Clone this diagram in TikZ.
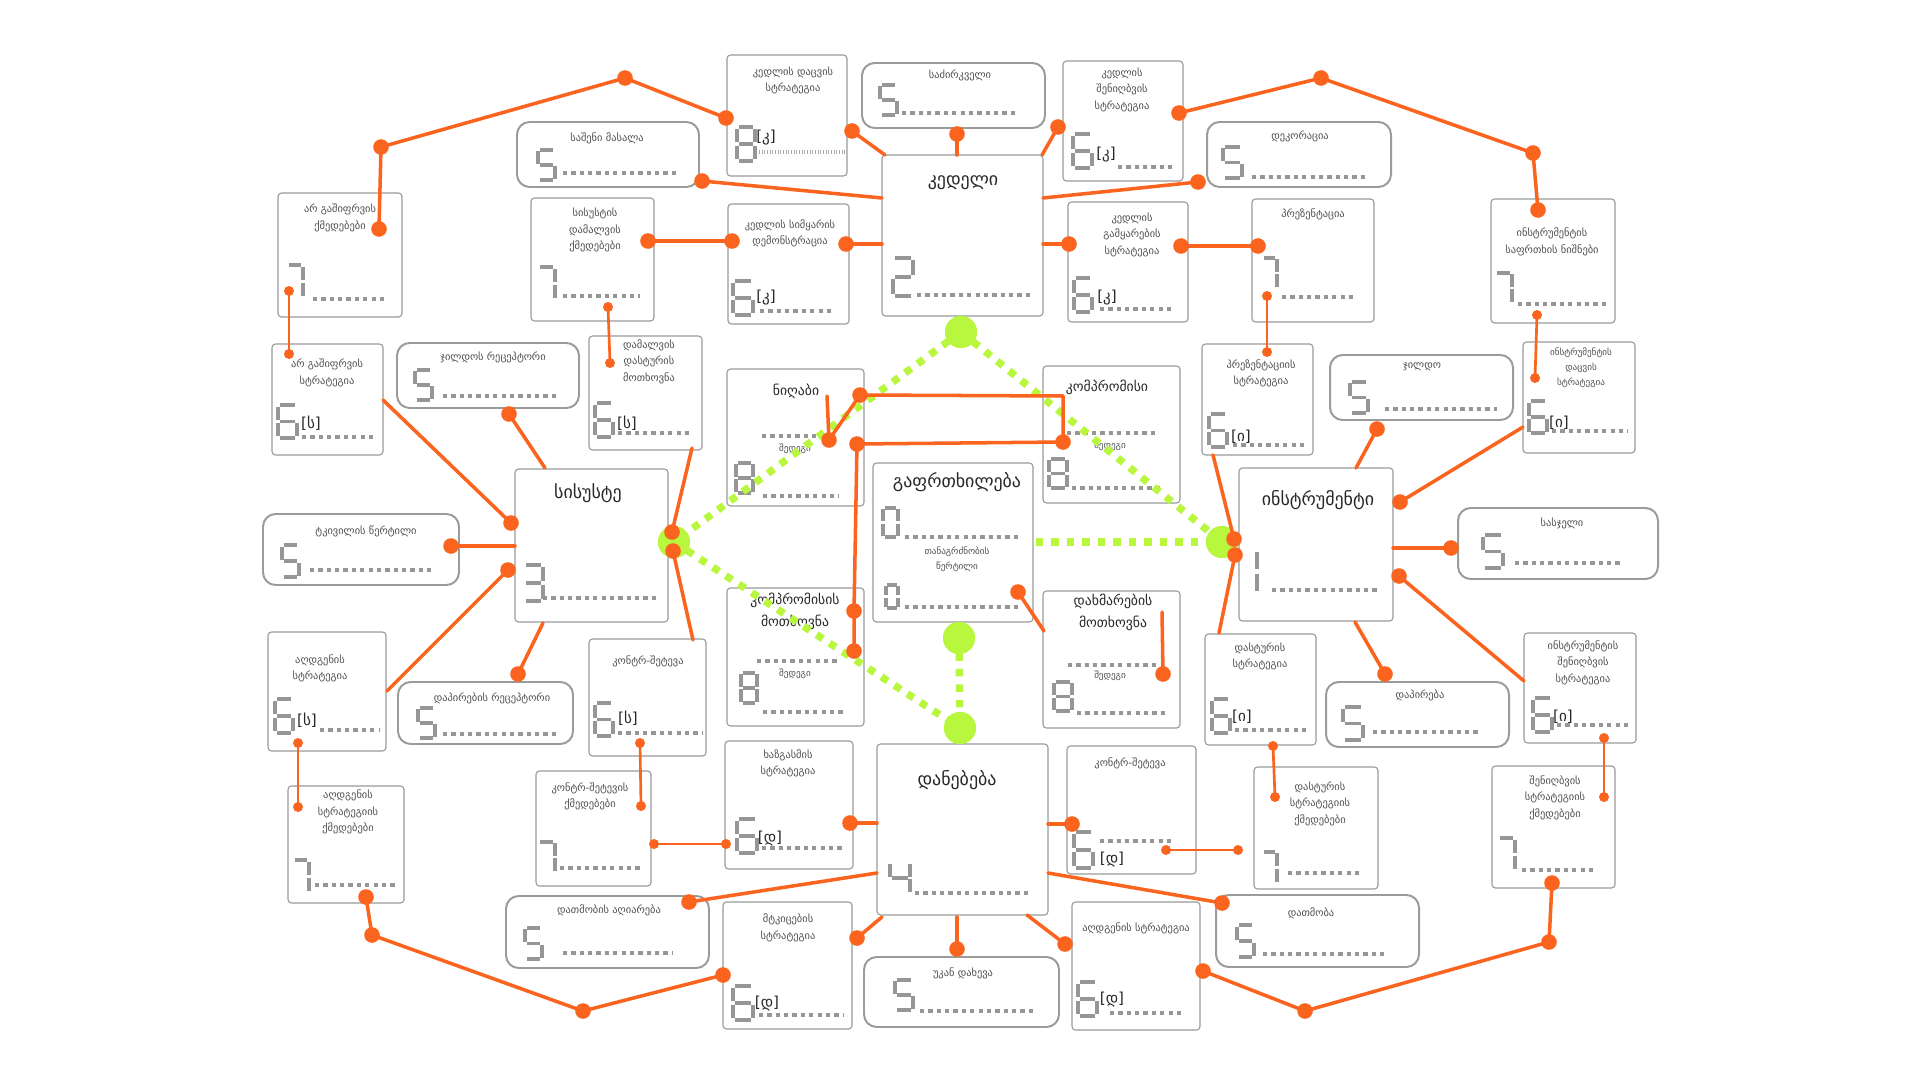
\documentclass[tikz,border=0pt]{standalone}
\usepackage{fontspec}
\setmainfont{DejaVu Sans}
\usetikzlibrary{fit}
\definecolor{org}{RGB}{250,100,30}
\definecolor{grn}{RGB}{184,247,61}
\definecolor{bord}{RGB}{155,155,155}
\definecolor{dig}{RGB}{150,150,150}
\definecolor{txt}{RGB}{80,80,80}
\definecolor{ttl}{RGB}{40,40,40}
\tikzset{
 sqb/.style={draw=bord, line width=1.6pt, rounded corners=5pt, fill=white, inner sep=0pt},
 rdb/.style={draw=bord, line width=2.8pt, rounded corners=18pt, fill=white, inner sep=0pt},
 segl/.style={draw=dig, line width=4.6pt},
 drw/.style={draw=dig, line width=5.7pt, dash pattern=on 6pt off 5.9pt},
 tickrow/.style={draw=dig!80, line width=5.7pt, dash pattern=on 1.2pt off 2.6pt},
 tsm/.style={text=txt, font=\fontsize{14.8}{23.5}\selectfont, align=center, inner sep=0pt},
 txs/.style={text=txt, font=\fontsize{13}{21.5}\selectfont, align=center, inner sep=0pt},
 tmid/.style={text=ttl, font=\fontsize{19.5}{31}\selectfont, align=center, inner sep=0pt},
 tbig/.style={text=ttl, font=\fontsize{25.5}{30}\selectfont, align=center, inner sep=0pt},
 brk/.style={text=ttl, font=\fontsize{21.5}{24}\selectfont, inner sep=0pt},
 ol/.style={draw=org, line width=5pt, line cap=round, line join=round},
 olt/.style={draw=org, line width=3.8pt, line cap=round},
 bd/.style={circle, fill=org, inner sep=0pt, minimum size=7.8mm},
 sd/.style={circle, fill=org, inner sep=0pt, minimum size=5mm},
 gd/.style={circle, fill=grn, inner sep=0pt, minimum size=16mm},
 gl/.style={draw=grn, line width=10.5pt, dash pattern=on 10.5pt off 11.5pt},
}
\newcommand\sqbox[5]{\node[sqb,fit={(#2,#3)(#4,#5)}] (#1) {};}
\newcommand\rbox[5]{\node[rdb,fit={(#2,#3)(#4,#5)}] (#1) {};}
\newcommand\drow[3]{\draw[drw] (#1,#3) -- (#2,#3);}
\newcommand\sgA{\draw[segl] (2,0)--(15,0);}
\newcommand\sgB{\draw[segl] (17,1.5)--(17,14.5);}
\newcommand\sgC{\draw[segl] (17,17.5)--(17,30.5);}
\newcommand\sgD{\draw[segl] (2,32)--(15,32);}
\newcommand\sgE{\draw[segl] (0,17.5)--(0,30.5);}
\newcommand\sgF{\draw[segl] (0,1.5)--(0,14.5);}
\newcommand\sgG{\draw[segl] (2,16)--(15,16);}
\newcommand\dZero{\sgA\sgB\sgC\sgD\sgE\sgF}
\newcommand\dOne{\sgE\sgF}
\newcommand\dTwo{\sgA\sgB\sgG\sgE\sgD}
\newcommand\dThree{\sgA\sgB\sgG\sgC\sgD}
\newcommand\dFour{\sgF\sgG\sgB\sgC}
\newcommand\dFive{\sgA\sgF\sgG\sgC\sgD}
\newcommand\dSix{\sgA\sgF\sgG\sgE\sgD\sgC}
\newcommand\dSeven{\sgA\sgB\sgC}
\newcommand\dEight{\sgA\sgB\sgC\sgD\sgE\sgF\sgG}
\newcommand\sdigit[5]{\begin{scope}[shift={(#1,#2)},xscale=#3/17,yscale=#4/32]#5\end{scope}}
\begin{document}
\begin{tikzpicture}[x=0.5mm,y=-0.5mm]
\fill[white] (0,0) rectangle (1920,1080);
\useasboundingbox (0,0) rectangle (1920,1080);

% ---------- square boxes ----------
\sqbox{ng1}{278}{193}{402}{317}
\node[tsm] (ng1t) at (340,218) {არ გაშიფრვის\\ქმედებები};
\sdigit{287}{265}{16}{32}{\dSeven} \drow{313}{388}{299}

\sqbox{sd1}{531}{198}{654}{321}
\node[tsm] (sd1t) at (595,230) {სისუსტის\\დამალვის\\ქმედებები};
\sdigit{538}{267}{17}{33}{\dSeven} \drow{563}{640}{296}

\sqbox{kd}{727}{55}{847}{176}
\node[tsm] (kdt) at (793,80.5) {კედლის დაცვის\\სტრატეგია};
\sdigit{737}{127}{18}{34}{\dEight} \node[brk] (kdb) at (766,138) {[კ]};
\draw[tickrow] (759,152) -- (845,152);

\sqbox{kedeli}{882}{155}{1043}{316}
\node[tbig] (kedelit) at (963,183) {კედელი};
\sdigit{893}{258}{20}{38}{\dTwo} \drow{917}{1033}{295}

\sqbox{ksh}{1063}{61}{1183}{181}
\node[tsm] (ksht) at (1122,89.5) {კედლის\\შენიღბვის\\სტრატეგია};
\sdigit{1073}{134}{19}{34}{\dSix} \node[brk] (kshb) at (1106,155) {[კ]};
\drow{1118}{1173}{167}

\sqbox{ksim}{728}{204}{849}{324}
\node[tsm] (ksimt) at (790,233.5) {კედლის სიმყარის\\დემონსტრაცია};
\sdigit{733}{281}{20}{34}{\dSix} \node[brk] (ksimb) at (766,298) {[კ]};
\drow{760}{835}{311}

\sqbox{kgam}{1068}{202}{1188}{322}
\node[tsm] (kgamt) at (1132,234.5) {კედლის\\გამყარების\\სტრატეგია};
\sdigit{1074}{278}{18}{34}{\dSix} \node[brk] (kgamb) at (1107,298) {[კ]};
\drow{1100}{1173}{309}

\sqbox{prez}{1252}{199}{1374}{322}
\node[tsm] (prezt) at (1313,214) {პრეზენტაცია};
\sdigit{1262}{258}{15}{30}{\dSeven} \drow{1282}{1355}{297}

\sqbox{insaf}{1491}{199}{1615}{323}
\node[tsm] (insaft) at (1552,242) {ინსტრუმენტის\\საფრთხის ნიშნები};
\sdigit{1495}{273}{17}{30}{\dSeven} \drow{1518}{1607}{304}

\sqbox{ngs}{272}{344}{383}{455}
\node[tsm] (ngst) at (327,373) {არ გაშიფრვის\\სტრატეგია};
\sdigit{278}{405}{19}{33}{\dSix} \node[brk] (ngsb) at (311,423) {[ს]};
\drow{302}{377}{437}

\sqbox{dds}{589}{336}{702}{450}
\node[tsm] (ddst) at (649,361.5) {დამალვის\\დასტურის\\მოთხოვნა};
\sdigit{595}{403}{18}{34}{\dSix} \node[brk] (ddsb) at (627,423) {[ს]};
\drow{618}{693}{433}

\sqbox{sisuste}{515}{469}{668}{622}
\node[tbig] (sisustet) at (588,493) {სისუსტე};
\sdigit{524}{565}{19}{36}{\dThree} \drow{543}{660}{598}

\sqbox{nighabi}{727}{369}{864}{506}
\node[tmid] (nighabit) at (796,391) {ნიღაბი};
\drow{762}{837}{436}
\node[txs] (nighabir) at (795,449) {შედეგი};
\sdigit{736}{463}{17}{30}{\dEight} \drow{763}{839}{496}

\sqbox{kompr}{1043}{366}{1180}{503}
\node[tmid] (komprt) at (1107,387) {კომპრომისი};
\drow{1067}{1157}{433}
\node[txs] (komprr) at (1110,446) {შედეგი};
\sdigit{1049}{459}{18}{29}{\dEight} \drow{1072}{1163}{488}

\sqbox{gafr}{873}{463}{1033}{622}
\node[tbig] (gafrt) at (957,482) {გაფრთხილება};
\sdigit{883}{508}{15}{29}{\dZero} \drow{905}{1022}{537}
\node[txs] (gafrs) at (957,559) {თანაგრძნობის\\წერტილი};
\sdigit{886}{585}{12}{23}{\dZero} \drow{905}{1022}{607}

\sqbox{instr}{1239}{468}{1393}{621}
\node[tbig] (instrt) at (1318,500) {ინსტრუმენტი};
\sdigit{1257}{550}{17}{43}{\dOne} \drow{1272}{1378}{590}

\sqbox{prs}{1202}{344}{1313}{455}
\node[tsm] (prst) at (1261,373.5) {პრეზენტაციის\\სტრატეგია};
\sdigit{1209}{414}{18}{33}{\dSix} \node[brk] (prsb) at (1241,437) {[ი]};
\drow{1233}{1307}{445}

\sqbox{ids}{1523}{342}{1635}{453}
\node[txs] (idst) at (1581,368) {ინსტრუმენტის\\დაცვის\\სტრატეგია};
\sdigit{1529}{401}{18}{32}{\dSix} \node[brk] (idsb) at (1559,423) {[ი]};
\drow{1552}{1628}{431}

\sqbox{ags}{268}{632}{386}{751}
\node[tsm] (agst) at (320,668.5) {აღდგენის\\სტრატეგია};
\sdigit{275}{699}{18}{34}{\dSix} \node[brk] (agsb) at (307,720) {[ს]};
\drow{320}{380}{730}

\sqbox{kontra}{589}{639}{706}{756}
\node[tsm] (kontrat) at (648,661) {კონტრ-შეტევა};
\sdigit{595}{703}{18}{33}{\dSix} \node[brk] (kontrab) at (628,718) {[ს]};
\drow{618}{702}{733}

\sqbox{kmotx}{727}{588}{864}{726}
\node[tmid] (kmotxt) at (795,611) {კომპრომისის\\მოთხოვნა};
\drow{757}{840}{661}
\node[txs] (kmotxr) at (795,674) {შედეგი};
\sdigit{741}{673}{16}{30}{\dEight} \drow{763}{845}{712}

\sqbox{dmotx}{1043}{591}{1180}{728}
\node[tmid] (dmotxt) at (1113,612.5) {დახმარების\\მოთხოვნა};
\drow{1068}{1160}{665}
\node[txs] (dmotxr) at (1110,676) {შედეგი};
\sdigit{1054}{682}{18}{29}{\dEight} \drow{1077}{1168}{713}

\sqbox{dss}{1205}{634}{1316}{745}
\node[tsm] (dsst) at (1260,656.5) {დასტურის\\სტრატეგია};
\sdigit{1212}{699}{18}{34}{\dSix} \node[brk] (dssb) at (1242,717) {[ი]};
\drow{1235}{1308}{730}

\sqbox{iss}{1524}{633}{1636}{743}
\node[tsm] (isst) at (1583,662.5) {ინსტრუმენტის\\შენიღბვის\\სტრატეგია};
\sdigit{1533}{698}{19}{34}{\dSix} \node[brk] (issb) at (1563,717) {[ი]};
\drow{1557}{1630}{725}

\sqbox{agsq}{288}{786}{404}{903}
\node[tsm] (agsqt) at (348,812) {აღდგენის\\სტრატეგიის\\ქმედებები};
\sdigit{293}{860}{16}{32}{\dSeven} \drow{315}{398}{885}

\sqbox{ksq}{536}{771}{651}{886}
\node[tsm] (ksqt) at (590,796.5) {კონტრ-შეტევის\\ქმედებები};
\sdigit{538}{842}{17}{30}{\dSeven} \drow{560}{643}{868}

\sqbox{xaz}{725}{741}{853}{869}
\node[tsm] (xazt) at (788,763.5) {ხაზგასმის\\სტრატეგია};
\sdigit{737}{819}{20}{34}{\dSix} \node[brk] (xazb) at (770,838) {[დ]};
\drow{762}{845}{848}

\sqbox{daneb}{877}{744}{1048}{915}
\node[tbig] (danebt) at (957,780) {დანებება};
\sdigit{890}{863}{20}{30}{\dFour} \drow{915}{1032}{893}

\sqbox{kontrb}{1067}{746}{1196}{874}
\node[tsm] (kontrbt) at (1130,763) {კონტრ-შეტევა};
\sdigit{1074}{832}{19}{36}{\dSix} \drow{1100}{1173}{841}
\node[brk] (kontrbb) at (1112,859) {[დ]};

\sqbox{mtk}{723}{902}{852}{1029}
\node[tsm] (mtkt) at (788,928) {მტკიცების\\სტრატეგია};
\sdigit{733}{986}{20}{34}{\dSix} \node[brk] (mtkb) at (767,1003) {[დ]};
\drow{759}{843}{1015}

\sqbox{agsb}{1072}{902}{1200}{1030}
\node[tsm] (agsbt) at (1136,928) {აღდგენის სტრატეგია};
\sdigit{1078}{982}{19}{34}{\dSix} \node[brk] (agsbb) at (1112,999) {[დ]};
\drow{1110}{1183}{1013}

\sqbox{dssq}{1254}{767}{1378}{889}
\node[tsm] (dssqt) at (1320,803.5) {დასტურის\\სტრატეგიის\\ქმედებები};
\sdigit{1262}{852}{15}{31}{\dSeven} \drow{1288}{1362}{873}

\sqbox{shsq}{1492}{766}{1615}{888}
\node[tsm] (shsqt) at (1555,797.5) {შენიღბვის\\სტრატეგიის\\ქმედებები};
\sdigit{1498}{838}{17}{32}{\dSeven} \drow{1522}{1595}{870}

% ---------- rounded boxes ----------
\rbox{r1}{517}{122}{699}{187}
\node[tsm] (r1t) at (607,138) {საშენი მასალა};
\sdigit{538}{150}{17}{30}{\dFive} \drow{563}{680}{173}

\rbox{r2}{862}{63}{1045}{128}
\node[tsm] (r2t) at (960,75) {საძირკველი};
\sdigit{880}{85}{17}{30}{\dFive} \drow{902}{1018}{113}

\rbox{r3}{1207}{122}{1391}{187}
\node[tsm] (r3t) at (1300,136) {დეკორაცია};
\sdigit{1223}{147}{19}{31}{\dFive} \drow{1252}{1367}{177}

\rbox{r4}{397}{343}{579}{408}
\node[tsm] (r4t) at (493,357) {ჯილდოს რეცეპტორი};
\sdigit{415}{370}{17}{30}{\dFive} \drow{443}{558}{396}

\rbox{r5}{1330}{355}{1513}{420}
\node[tsm] (r5t) at (1422,367) {ჯილდო};
\sdigit{1350}{382}{18}{31}{\dFive} \drow{1385}{1497}{409}

\rbox{r6}{263}{514}{459}{585}
\node[tsm] (r6t) at (366,531) {ტკივილის წერტილი};
\sdigit{282}{545}{17}{32}{\dFive} \drow{310}{432}{570}

\rbox{r7}{1458}{508}{1658}{579}
\node[tsm] (r7t) at (1562,523) {სასჯელი};
\sdigit{1483}{535}{20}{33}{\dFive} \drow{1515}{1620}{563}

\rbox{r8}{398}{682}{573}{744}
\node[tsm] (r8t) at (492,698) {დაპირების რეცეპტორი};
\sdigit{418}{708}{17}{30}{\dFive} \drow{443}{558}{734}

\rbox{r9}{1326}{682}{1509}{747}
\node[tsm] (r9t) at (1420,695) {დაპირება};
\sdigit{1343}{707}{20}{33}{\dFive} \drow{1373}{1478}{732}

\rbox{r10}{506}{896}{709}{968}
\node[tsm] (r10t) at (609,910) {დათმობის აღიარება};
\sdigit{525}{928}{17}{31}{\dFive} \drow{563}{672}{953}

\rbox{r11}{864}{957}{1059}{1027}
\node[tsm] (r11t) at (963,973) {უკან დახევა};
\sdigit{895}{980}{18}{30}{\dFive} \drow{920}{1037}{1011}

\rbox{r12}{1216}{895}{1419}{967}
\node[tsm] (r12t) at (1311,913) {დათმობა};
\sdigit{1237}{925}{17}{32}{\dFive} \drow{1263}{1385}{954}

% ---------- green network ----------
\node[gd] (g1) at (961,332) {};
\node[gd] (g2) at (674,542) {};
\node[gd] (g3) at (1222,542) {};
\node[gd] (g4) at (959,638) {};
\node[gd] (g5) at (960,728) {};
\coordinate (gs) at (1036,542);
\draw[gl] (g1.center) -- (g2.center);
\draw[gl] (g1.center) -- (g3.center);
\draw[gl] (g2.center) -- (g5.center);
\draw[gl] (gs) -- (g3.center);
\draw[gl] (g4.center) -- (g5.center);
\foreach \g in {g1,g2,g3,g4,g5} \fill[grn] (\g) circle[radius=16];

% ---------- orange dots ----------
\node[bd] (d1) at (379,229) {};  \node[bd] (d2) at (381,147) {};
\node[bd] (d3) at (625,78) {};   \node[bd] (d4) at (726,118) {};
\node[bd] (d5) at (1179,113) {}; \node[bd] (d6) at (1321,78) {};
\node[bd] (d7) at (1533,153) {}; \node[bd] (d8) at (1538,210) {};
\node[bd] (d9) at (702,181) {};  \node[bd] (d10) at (852,131) {};
\node[bd] (d11) at (957,134) {}; \node[bd] (d12) at (1058,127) {};
\node[bd] (d13) at (1198,182) {};\node[bd] (d14) at (648,241) {};
\node[bd] (d15) at (732,241) {}; \node[bd] (d16) at (846,244) {};
\node[bd] (d17) at (1069,244) {};\node[bd] (d18) at (1181,246) {};
\node[bd] (d19) at (1258,246) {};\node[bd] (d21) at (509,414) {};
\node[bd] (d22) at (511,523) {}; \node[bd] (d23) at (451,546) {};
\node[bd] (d24) at (508,570) {}; \node[bd] (d25) at (518,674) {};
\node[bd] (d26) at (672,532) {}; \node[bd] (d27) at (673,551) {};
\node[bd] (d28) at (829,440) {}; \node[bd] (d29) at (860,395) {};
\node[bd] (d30) at (1063,442) {};\node[bd] (d31) at (857,444) {};
\node[bd] (d32) at (854,611) {}; \node[bd] (d33) at (854,651) {};
\node[bd] (d34) at (1018,592) {};\node[bd] (d35) at (1163,674) {};
\node[bd] (d36) at (1234,539) {};\node[bd] (d37) at (1235,555) {};
\node[bd] (d38) at (1377,429) {};\node[bd] (d39) at (1400,502) {};
\node[bd] (d40) at (1451,548) {};\node[bd] (d41) at (1399,576) {};
\node[bd] (d42) at (1385,674) {};\node[bd] (d43) at (366,897) {};
\node[bd] (d44) at (372,935) {}; \node[bd] (d45) at (583,1011) {};
\node[bd] (d46) at (723,975) {}; \node[bd] (d48) at (689,902) {};
\node[bd] (d49) at (850,823) {}; \node[bd] (d50) at (1072,824) {};
\node[bd] (d51) at (1222,903) {};\node[bd] (d52) at (857,938) {};
\node[bd] (d53) at (957,949) {}; \node[bd] (d54) at (1065,944) {};
\node[bd] (d55) at (1203,971) {};\node[bd] (d56) at (1305,1011) {};
\node[bd] (d57) at (1549,942) {};\node[bd] (d58) at (1552,883) {};
\node[sd] (s1) at (289,291) {};  \node[sd] (s2) at (289,354) {};
\node[sd] (s3) at (608,307) {};  \node[sd] (s4) at (610,363) {};
\node[sd] (s5) at (1267,296) {}; \node[sd] (s6) at (1267,352) {};
\node[sd] (s7) at (1537,315) {}; \node[sd] (s8) at (1535,378) {};
\node[sd] (s9) at (298,743) {};  \node[sd] (s10) at (298,807) {};
\node[sd] (s11) at (640,743) {}; \node[sd] (s12) at (641,806) {};
\node[sd] (s13) at (654,844) {}; \node[sd] (s14) at (726,844) {};
\node[sd] (s15) at (1166,850) {};\node[sd] (s16) at (1238,850) {};
\node[sd] (s17) at (1273,746) {};\node[sd] (s18) at (1275,797) {};
\node[sd] (s19) at (1604,738) {};\node[sd] (s20) at (1604,797) {};

% free ends
\coordinate (c1) at (882,198);  \coordinate (c2) at (885,155);
\coordinate (c3) at (957,155);  \coordinate (c4) at (1042,155);
\coordinate (c5) at (1043,198); \coordinate (c6) at (882,244);
\coordinate (c7) at (1043,244); \coordinate (c8) at (545,468);
\coordinate (c9) at (383,400);  \coordinate (c10) at (515,546);
\coordinate (c11) at (387,691); \coordinate (c12) at (543,623);
\coordinate (c13) at (692,448); \coordinate (c14) at (693,640);
\coordinate (c15) at (827,396); \coordinate (c16) at (1063,396);
\coordinate (c18) at (1044,631);\coordinate (c19) at (1162,612);
\coordinate (c20) at (1213,455);\coordinate (c21) at (1219,633);
\coordinate (c22) at (1356,468);\coordinate (c23) at (1523,427);
\coordinate (c24) at (1393,548);\coordinate (c25) at (1524,681);
\coordinate (c26) at (1355,622);\coordinate (c27) at (877,873);
\coordinate (c28) at (877,823); \coordinate (c29) at (1048,824);
\coordinate (c30) at (1048,873);\coordinate (c31) at (882,917);
\coordinate (c32) at (957,917); \coordinate (c33) at (1027,915);

% ---------- orange connectors ----------
\draw[ol] (d1.center) -- (d2.center) -- (d3.center) -- (d4.center);
\draw[ol] (d5.center) -- (d6.center) -- (d7.center) -- (d8.center);
\draw[ol] (d9.center) -- (c1);
\draw[ol] (d10.center) -- (c2);
\draw[ol] (d11.center) -- (c3);
\draw[ol] (d12.center) -- (c4);
\draw[ol] (c5) -- (d13.center);
\draw[ol] (d14.center) -- (d15.center);
\draw[ol] (d16.center) -- (c6);
\draw[ol] (c7) -- (d17.center);
\draw[ol] (d18.center) -- (d19.center);
\draw[olt] (s1.center) -- (s2.center);
\draw[olt] (s3.center) -- (s4.center);
\draw[olt] (s5.center) -- (s6.center);
\draw[olt] (s7.center) -- (s8.center);
\draw[ol] (d21.center) -- (c8);
\draw[ol] (c9) -- (d22.center);
\draw[ol] (d23.center) -- (c10);
\draw[ol] (d24.center) -- (c11);
\draw[ol] (c12) -- (d25.center);
\draw[ol] (c13) -- (d26.center);
\draw[ol] (d27.center) -- (c14);
\draw[ol] (c15) -- (d28.center) -- (d29.center) -- (c16) -- (d30.center) -- (d31.center) -- (d32.center) -- (d33.center);
\draw[ol] (d34.center) -- (c18);
\draw[ol] (c19) -- (d35.center);
\draw[ol] (c20) -- (d36.center);
\draw[ol] (d37.center) -- (c21);
\draw[ol] (d38.center) -- (c22);
\draw[ol] (c23) -- (d39.center);
\draw[ol] (c24) -- (d40.center);
\draw[ol] (d41.center) -- (c25);
\draw[ol] (c26) -- (d42.center);
\draw[olt] (s9.center) -- (s10.center);
\draw[olt] (s11.center) -- (s12.center);
\draw[ol] (d43.center) -- (d44.center) -- (d45.center) -- (d46.center);
\draw[olt] (s13.center) -- (s14.center);
\draw[ol] (d48.center) -- (c27);
\draw[ol] (d49.center) -- (c28);
\draw[ol] (c29) -- (d50.center);
\draw[olt] (s15.center) -- (s16.center);
\draw[ol] (c30) -- (d51.center);
\draw[ol] (d52.center) -- (c31);
\draw[ol] (d53.center) -- (c32);
\draw[ol] (d54.center) -- (c33);
\draw[ol] (d55.center) -- (d56.center) -- (d57.center) -- (d58.center);
\draw[olt] (s17.center) -- (s18.center);
\draw[olt] (s19.center) -- (s20.center);
\end{tikzpicture}
\end{document}
